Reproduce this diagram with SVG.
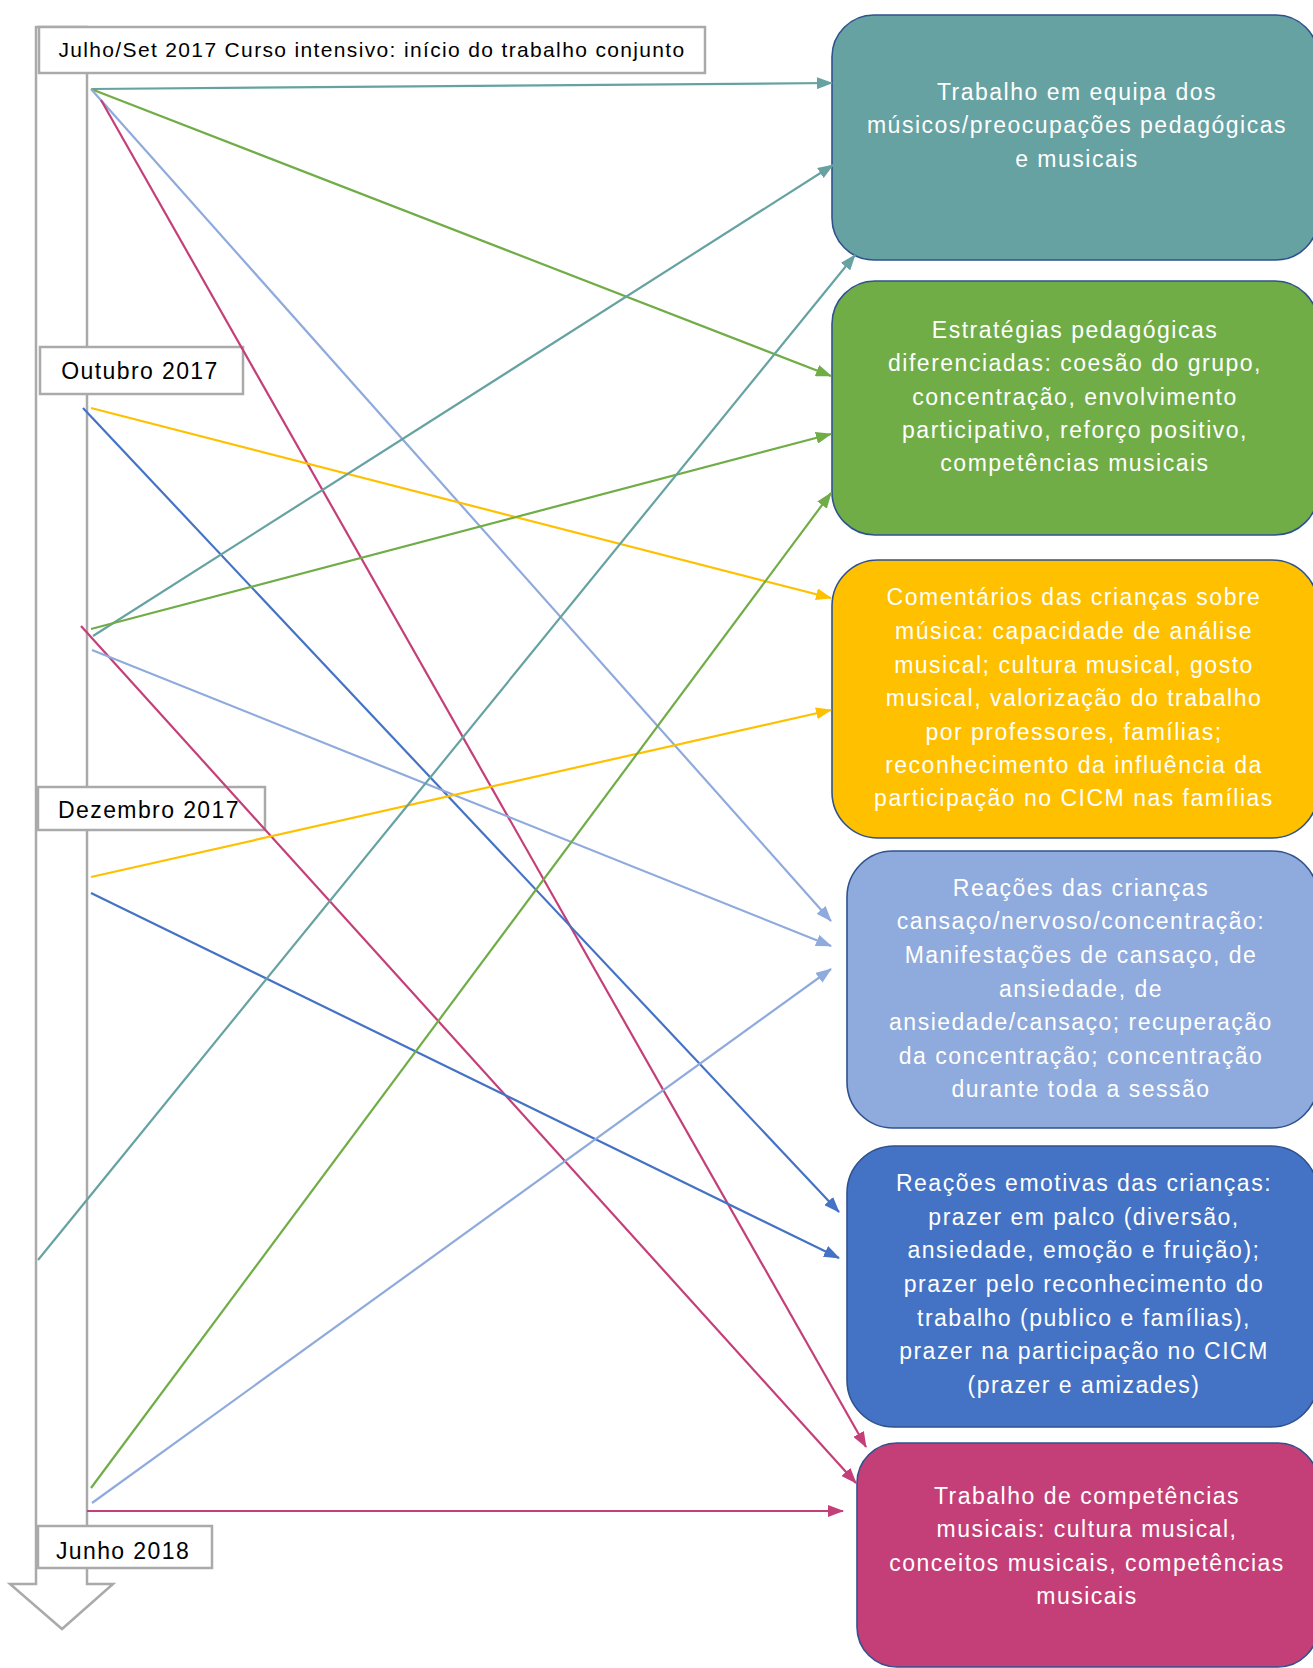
<svg xmlns="http://www.w3.org/2000/svg" width="1313" height="1668" viewBox="0 0 1313 1668">
<style>
.tl{fill:#fff;stroke:#AAAAAA;stroke-width:2.5}
.lab{fill:#fff;stroke:#AAAAAA;stroke-width:2.5}
.lt{font-family:"Liberation Sans",Arial,sans-serif;font-size:23px;letter-spacing:1.4px;fill:#000;text-anchor:middle}
.lt1{font-family:"Liberation Sans",Arial,sans-serif;font-size:21px;letter-spacing:1.35px;fill:#000;text-anchor:middle}
.nb{stroke:#2F528F;stroke-width:1.6}
.nt{font-family:"Liberation Sans",Arial,sans-serif;font-size:23px;letter-spacing:1.5px;fill:#fff;text-anchor:middle}
.c{fill:none;stroke-width:2.2}
</style>
<defs>
<marker id="mTeal" viewBox="0 0 16 12" refX="15" refY="6" markerWidth="16" markerHeight="12" markerUnits="userSpaceOnUse" orient="auto"><path d="M0,0 L16,6 L0,12 z" fill="#66A2A2"/></marker>
<marker id="mGreen" viewBox="0 0 16 12" refX="15" refY="6" markerWidth="16" markerHeight="12" markerUnits="userSpaceOnUse" orient="auto"><path d="M0,0 L16,6 L0,12 z" fill="#70AD47"/></marker>
<marker id="mYellow" viewBox="0 0 16 12" refX="15" refY="6" markerWidth="16" markerHeight="12" markerUnits="userSpaceOnUse" orient="auto"><path d="M0,0 L16,6 L0,12 z" fill="#FFC000"/></marker>
<marker id="mLBlue" viewBox="0 0 16 12" refX="15" refY="6" markerWidth="16" markerHeight="12" markerUnits="userSpaceOnUse" orient="auto"><path d="M0,0 L16,6 L0,12 z" fill="#8FAADC"/></marker>
<marker id="mBlue" viewBox="0 0 16 12" refX="15" refY="6" markerWidth="16" markerHeight="12" markerUnits="userSpaceOnUse" orient="auto"><path d="M0,0 L16,6 L0,12 z" fill="#4472C4"/></marker>
<marker id="mMag" viewBox="0 0 16 12" refX="15" refY="6" markerWidth="16" markerHeight="12" markerUnits="userSpaceOnUse" orient="auto"><path d="M0,0 L16,6 L0,12 z" fill="#C43F78"/></marker>
</defs>
<rect width="1313" height="1668" fill="#fff"/>

<g id="timeline">
<polygon class="tl" points="36,27 87,27 87,1584 113,1584 62,1629 10,1584 36,1584"/>
</g>

<g id="label-julho">
<rect class="lab" x="39" y="27" width="666" height="46"/>
<text class="lt1" x="372" y="57">Julho/Set 2017 Curso intensivo: início do trabalho conjunto</text>
</g>
<g id="label-outubro">
<rect class="lab" x="40" y="347" width="203" height="47"/>
<text class="lt" x="140" y="379">Outubro 2017</text>
</g>
<g id="label-dezembro">
<rect class="lab" x="38" y="787" width="227" height="43"/>
<text class="lt" x="149" y="818">Dezembro 2017</text>
</g>
<g id="label-junho">
<rect class="lab" x="38" y="1526" width="174" height="42"/>
<text class="lt" x="123" y="1559">Junho 2018</text>
</g>

<g id="node-teal">
<rect class="nb" x="832" y="15" width="486" height="245" rx="42" fill="#66A2A2"/>
<text class="nt" x="1077" y="100">Trabalho em equipa dos</text>
<text class="nt" x="1077" y="133">músicos/preocupações pedagógicas</text>
<text class="nt" x="1077" y="167">e musicais</text>
</g>
<g id="node-green">
<rect class="nb" x="832" y="281" width="486" height="254" rx="43" fill="#70AD47"/>
<text class="nt" x="1075" y="338">Estratégias pedagógicas</text>
<text class="nt" x="1075" y="371">diferenciadas: coesão do grupo,</text>
<text class="nt" x="1075" y="405">concentração, envolvimento</text>
<text class="nt" x="1075" y="438">participativo, reforço positivo,</text>
<text class="nt" x="1075" y="471">competências musicais</text>
</g>
<g id="node-yellow">
<rect class="nb" x="832" y="560" width="486" height="278" rx="46" fill="#FFC000"/>
<text class="nt" x="1074" y="605">Comentários das crianças sobre</text>
<text class="nt" x="1074" y="639">música: capacidade de análise</text>
<text class="nt" x="1074" y="673">musical; cultura musical, gosto</text>
<text class="nt" x="1074" y="706">musical, valorização do trabalho</text>
<text class="nt" x="1074" y="740">por professores, famílias;</text>
<text class="nt" x="1074" y="773">reconhecimento da influência da</text>
<text class="nt" x="1074" y="806">participação no CICM nas famílias</text>
</g>
<g id="node-lightblue">
<rect class="nb" x="847" y="851" width="471" height="277" rx="46" fill="#8FAADC"/>
<text class="nt" x="1081" y="896">Reações das crianças</text>
<text class="nt" x="1081" y="929">cansaço/nervoso/concentração:</text>
<text class="nt" x="1081" y="963">Manifestações de cansaço, de</text>
<text class="nt" x="1081" y="997">ansiedade, de</text>
<text class="nt" x="1081" y="1030">ansiedade/cansaço; recuperação</text>
<text class="nt" x="1081" y="1064">da concentração; concentração</text>
<text class="nt" x="1081" y="1097">durante toda a sessão</text>
</g>
<g id="node-blue">
<rect class="nb" x="847" y="1146" width="471" height="281" rx="47" fill="#4472C4"/>
<text class="nt" x="1084" y="1191">Reações emotivas das crianças:</text>
<text class="nt" x="1084" y="1225">prazer em palco (diversão,</text>
<text class="nt" x="1084" y="1258">ansiedade, emoção e fruição);</text>
<text class="nt" x="1084" y="1292">prazer pelo reconhecimento do</text>
<text class="nt" x="1084" y="1326">trabalho (publico e famílias),</text>
<text class="nt" x="1084" y="1359">prazer na participação no CICM</text>
<text class="nt" x="1084" y="1393">(prazer e amizades)</text>
</g>
<g id="node-magenta">
<rect class="nb" x="857" y="1443" width="461" height="224" rx="40" fill="#C43F78"/>
<text class="nt" x="1087" y="1504">Trabalho de competências</text>
<text class="nt" x="1087" y="1537">musicais: cultura musical,</text>
<text class="nt" x="1087" y="1571">conceitos musicais, competências</text>
<text class="nt" x="1087" y="1604">musicais</text>
</g>

<g id="connectors">
<line class="c" stroke="#66A2A2" marker-end="url(#mTeal)" x1="91" y1="89" x2="832" y2="83"/>
<line class="c" stroke="#70AD47" marker-end="url(#mGreen)" x1="91" y1="89" x2="831" y2="376"/>
<line class="c" stroke="#8FAADC" marker-end="url(#mLBlue)" x1="91" y1="89" x2="831" y2="921"/>
<line class="c" stroke="#C43F78" marker-end="url(#mMag)" x1="101" y1="100" x2="866" y2="1447"/>
<line class="c" stroke="#FFC000" marker-end="url(#mYellow)" x1="91" y1="408" x2="831" y2="598"/>
<line class="c" stroke="#4472C4" marker-end="url(#mBlue)" x1="83" y1="408" x2="839" y2="1212"/>
<line class="c" stroke="#66A2A2" marker-end="url(#mTeal)" x1="93" y1="636" x2="833" y2="165"/>
<line class="c" stroke="#70AD47" marker-end="url(#mGreen)" x1="91" y1="629" x2="831" y2="434"/>
<line class="c" stroke="#C43F78" marker-end="url(#mMag)" x1="81" y1="626" x2="856" y2="1483"/>
<line class="c" stroke="#8FAADC" marker-end="url(#mLBlue)" x1="92" y1="650" x2="831" y2="946"/>
<line class="c" stroke="#FFC000" marker-end="url(#mYellow)" x1="91" y1="877" x2="831" y2="710"/>
<line class="c" stroke="#4472C4" marker-end="url(#mBlue)" x1="91" y1="893" x2="839" y2="1258"/>
<line class="c" stroke="#66A2A2" marker-end="url(#mTeal)" x1="38" y1="1260" x2="855" y2="255"/>
<line class="c" stroke="#70AD47" marker-end="url(#mGreen)" x1="91" y1="1488" x2="831" y2="493"/>
<line class="c" stroke="#8FAADC" marker-end="url(#mLBlue)" x1="92" y1="1503" x2="831" y2="969"/>
<line class="c" stroke="#C43F78" marker-end="url(#mMag)" x1="87" y1="1511" x2="843" y2="1511"/>
</g>
</svg>
